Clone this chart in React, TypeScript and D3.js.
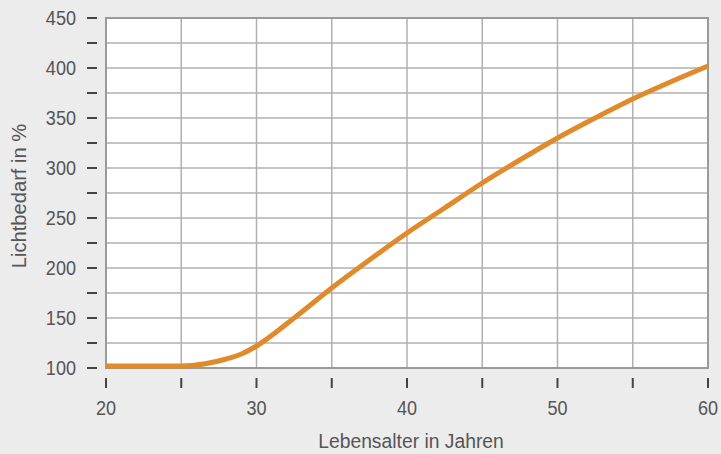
import * as d3 from 'd3';
import React, { createRef, useEffect } from 'react';

const WIDTH = 721;
const HEIGHT = 454;

const ages = [20, 22.5, 25, 26.5, 28, 29, 30, 32.5, 35, 37.5, 40, 42.5, 45, 47.5, 50, 52.5, 55, 57.5, 60];
const lightNeed = [102, 102, 102, 104, 109, 114, 122, 150, 180, 208, 235, 260, 285, 308, 330, 350, 369, 386, 402];

const xTicks = [20, 25, 30, 35, 40, 45, 50, 55, 60];
const xLabels = [20, 30, 40, 50, 60];
const yTicks = [100, 125, 150, 175, 200, 225, 250, 275, 300, 325, 350, 375, 400, 425, 450];
const yLabels = [100, 150, 200, 250, 300, 350, 400, 450];

const FONT = '"Liberation Sans", Arial, sans-serif';
const TEXT_COLOR = '#555';
// the original uses a tall condensed face, so we squeeze Liberation Sans a bit
const TICK_SQUEEZE = 0.86;
const TITLE_SQUEEZE = 0.92;

const margin = { top: 18, right: 13, bottom: 86, left: 106 };
const width = WIDTH - margin.left - margin.right;
const height = HEIGHT - margin.top - margin.bottom;

const App: React.FC = () => {
  const ref = createRef<SVGSVGElement>();

  useEffect(() => {
    const svg = d3.select(ref.current);
    svg.selectAll('*').remove();

    svg.append('rect').attr('width', WIDTH).attr('height', HEIGHT).attr('fill', '#ececec');

    const x = d3.scaleLinear().domain([20, 60]).range([0, width]);
    const y = d3.scaleLinear().domain([100, 450]).range([height, 0]);

    const g = svg.append('g').attr('transform', `translate(${margin.left},${margin.top})`);

    g.append('rect').attr('width', width).attr('height', height).attr('fill', '#fff');

    // grid
    g.selectAll('.vgrid')
      .data(xTicks)
      .enter()
      .append('line')
      .attr('x1', d => x(d))
      .attr('x2', d => x(d))
      .attr('y1', 0)
      .attr('y2', height)
      .attr('stroke', '#b0b0b0')
      .attr('stroke-width', 1.5);
    g.selectAll('.hgrid')
      .data(yTicks)
      .enter()
      .append('line')
      .attr('x1', 0)
      .attr('x2', width)
      .attr('y1', d => y(d))
      .attr('y2', d => y(d))
      .attr('stroke', '#b0b0b0')
      .attr('stroke-width', 1.5);

    g.append('rect')
      .attr('width', width)
      .attr('height', height)
      .attr('fill', 'none')
      .attr('stroke', '#9a9a9a')
      .attr('stroke-width', 2);

    // tick marks
    g.selectAll('.ytick')
      .data(yTicks)
      .enter()
      .append('line')
      .attr('x1', -19)
      .attr('x2', -9)
      .attr('y1', d => y(d))
      .attr('y2', d => y(d))
      .attr('stroke', '#444')
      .attr('stroke-width', 2);
    g.selectAll('.xtick')
      .data(xTicks)
      .enter()
      .append('line')
      .attr('x1', d => x(d))
      .attr('x2', d => x(d))
      .attr('y1', height + 10)
      .attr('y2', height + 20)
      .attr('stroke', '#444')
      .attr('stroke-width', 2);

    // labels
    g.selectAll('.ylabel')
      .data(yLabels)
      .enter()
      .append('g')
      .attr('transform', d => `translate(-30,${y(d)}) scale(${TICK_SQUEEZE},1)`)
      .append('text')
      .attr('dy', '0.35em')
      .attr('text-anchor', 'end')
      .style('font-family', FONT)
      .style('font-size', '21px')
      .attr('fill', TEXT_COLOR)
      .text(d => d);
    g.selectAll('.xlabel')
      .data(xLabels)
      .enter()
      .append('g')
      .attr('transform', d => `translate(${x(d)},${height + 40}) scale(${TICK_SQUEEZE},1)`)
      .append('text')
      .attr('dy', '0.35em')
      .attr('text-anchor', 'middle')
      .style('font-family', FONT)
      .style('font-size', '21px')
      .attr('fill', TEXT_COLOR)
      .text(d => d);

    svg.append('g')
      .attr('transform', `translate(${margin.left + width / 2 + 4},441) scale(${TITLE_SQUEEZE},1)`)
      .append('text')
      .attr('dy', '0.35em')
      .attr('text-anchor', 'middle')
      .style('font-family', FONT)
      .style('font-size', '21px')
      .attr('fill', TEXT_COLOR)
      .text('Lebensalter in Jahren');

    svg.append('g')
      .attr('transform', `translate(19, ${margin.top + height / 2 + 3}) rotate(-90) scale(0.96,1)`)
      .append('text')
      .attr('dy', '0.35em')
      .attr('text-anchor', 'middle')
      .style('font-family', FONT)
      .style('font-size', '21px')
      .attr('fill', TEXT_COLOR)
      .text('Lichtbedarf in %');

    // curve
    const line = d3
      .line<number>()
      .x((d, i) => x(ages[i]))
      .y(d => y(d))
      .curve(d3.curveMonotoneX);

    g.append('path')
      .datum(lightNeed)
      .attr('d', line)
      .attr('fill', 'none')
      .attr('stroke', '#e08a2c')
      .attr('stroke-width', 5)
      .attr('stroke-linecap', 'butt');
  }, []);

  return (
    <svg
      ref={ref}
      width={WIDTH}
      height={HEIGHT}
      style={{ position: 'fixed', left: 0, top: 0, display: 'block' }}
    />
  );
};

export default App;
